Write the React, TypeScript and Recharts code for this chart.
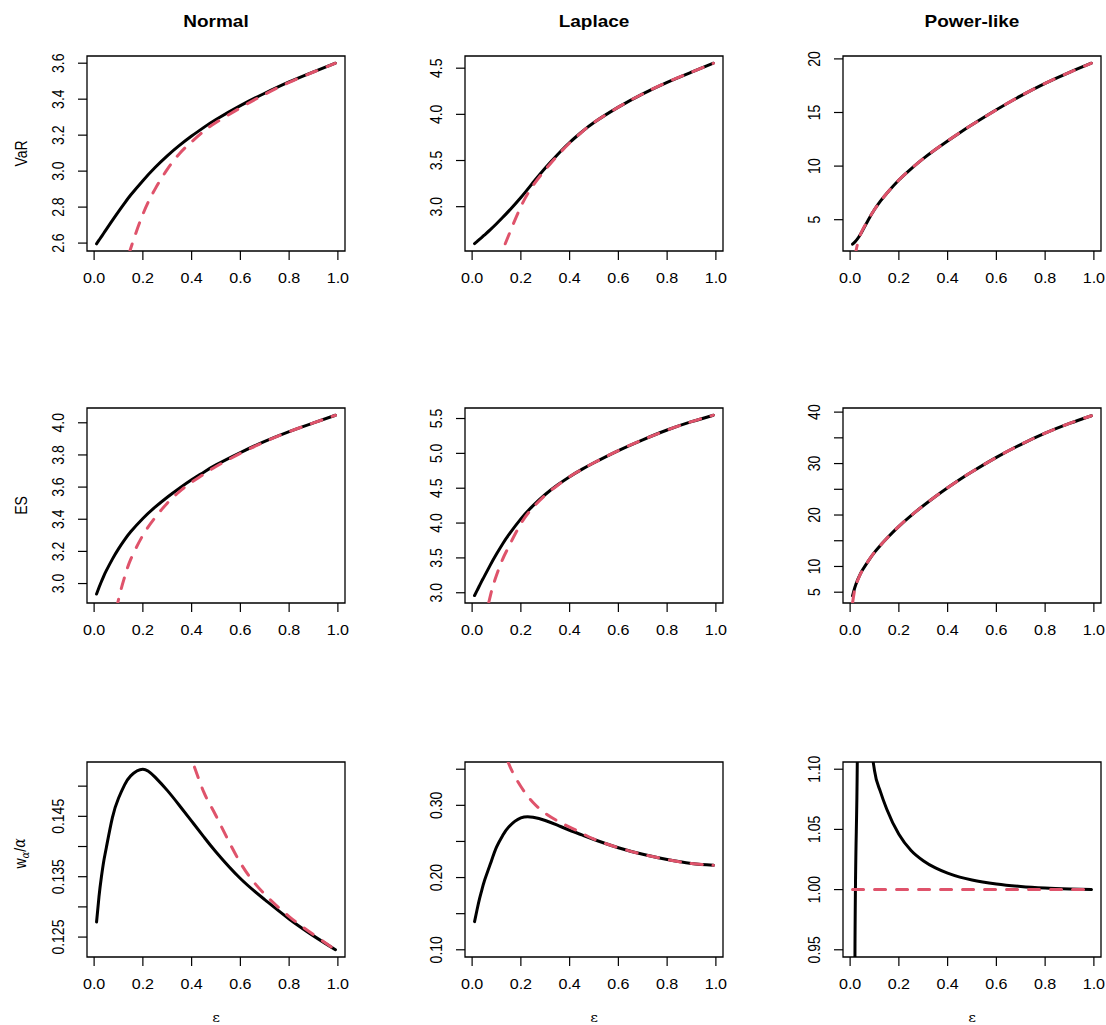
import React from 'react';
import { LineChart, Line, XAxis, YAxis, ReferenceArea } from 'recharts';

// ---------- data ----------
const EPS = [0.01, 0.02, 0.03, 0.04, 0.05, 0.075, 0.1, 0.125, 0.15, 0.2, 0.25, 0.3, 0.35, 0.4, 0.45, 0.5, 0.6, 0.7, 0.8, 0.9, 0.99];

const COLUMN_TITLES = ['Normal', 'Laplace', 'Power-like'];
const ROW_TITLES = ['VaR', 'ES', 'w'];
const X_TICKS = [0, 0.2, 0.4, 0.6, 0.8, 1.0];

const normalVaRExact = [2.596, 2.616, 2.636, 2.656, 2.676, 2.726, 2.775, 2.822, 2.867, 2.947, 3.02, 3.085, 3.143, 3.195, 3.243, 3.287, 3.364, 3.433, 3.496, 3.552, 3.6];
const normalVaRApprox = [null, null, null, null, null, null, 2.3, 2.45, 2.57, 2.76, 2.9, 3.01, 3.097, 3.163, 3.222, 3.27, 3.352, 3.427, 3.494, 3.551, 3.6];

const laplaceVaRExact = [2.6, 2.622, 2.645, 2.668, 2.692, 2.752, 2.815, 2.882, 2.952, 3.1, 3.262, 3.42, 3.563, 3.695, 3.81, 3.912, 4.078, 4.222, 4.347, 4.457, 4.554];
const laplaceVaRApprox = [null, null, null, null, null, null, 2.38, 2.53, 2.69, 3.0, 3.23, 3.4, 3.553, 3.69, 3.808, 3.912, 4.078, 4.222, 4.347, 4.457, 4.554];

const powerVaRExact = [2.72, 2.93, 3.2, 3.55, 3.95, 5.0, 5.95, 6.75, 7.45, 8.7, 9.75, 10.7, 11.55, 12.35, 13.12, 13.85, 15.25, 16.55, 17.72, 18.75, 19.6];
const powerVaRApprox = [null, 1.6, 2.7, 3.45, 4.0, 5.02, 5.95, 6.75, 7.45, 8.7, 9.75, 10.7, 11.55, 12.35, 13.12, 13.85, 15.25, 16.55, 17.72, 18.75, 19.6];

const normalESExact = [2.935, 2.975, 3.013, 3.048, 3.08, 3.152, 3.216, 3.272, 3.322, 3.405, 3.475, 3.537, 3.593, 3.645, 3.693, 3.738, 3.815, 3.884, 3.945, 3.999, 4.047];
const normalESApprox = [null, null, null, null, null, 2.7, 2.9, 3.04, 3.15, 3.3, 3.41, 3.5, 3.572, 3.63, 3.68, 3.728, 3.81, 3.882, 3.945, 3.999, 4.047];

const laplaceESExact = [2.96, 3.03, 3.1, 3.17, 3.235, 3.4, 3.555, 3.7, 3.83, 4.06, 4.25, 4.41, 4.545, 4.665, 4.77, 4.865, 5.04, 5.195, 5.335, 5.455, 5.548];
const laplaceESApprox = [null, null, null, null, 2.55, 2.96, 3.25, 3.48, 3.66, 3.99, 4.225, 4.4, 4.54, 4.665, 4.77, 4.865, 5.04, 5.195, 5.335, 5.455, 5.548];

const powerESExact = [4.3, 6.0, 7.3, 8.35, 9.25, 11.1, 12.75, 14.15, 15.45, 17.8, 19.9, 21.8, 23.6, 25.3, 26.9, 28.4, 31.2, 33.7, 35.9, 37.8, 39.3];
const powerESApprox = [2.9, 5.8, 7.2, 8.3, 9.2, 11.1, 12.75, 14.15, 15.45, 17.8, 19.9, 21.8, 23.6, 25.3, 26.9, 28.4, 31.2, 33.7, 35.9, 37.8, 39.3];

const normalWExact = [0.1275, 0.1317, 0.135, 0.1377, 0.1398, 0.1448, 0.148, 0.1502, 0.1517, 0.1528, 0.1515, 0.1493, 0.1468, 0.1442, 0.1416, 0.1391, 0.1347, 0.1312, 0.128, 0.1252, 0.1229];
const normalWApprox = [null, null, null, null, null, null, null, null, null, null, null, null, 0.16, 0.1545, 0.149, 0.1451, 0.1373, 0.1321, 0.1284, 0.1254, 0.1229];

const laplaceWExact = [0.139, 0.155, 0.17, 0.183, 0.195, 0.219, 0.242, 0.258, 0.27, 0.2825, 0.2835, 0.279, 0.2725, 0.2655, 0.259, 0.2527, 0.2413, 0.2322, 0.2249, 0.2194, 0.2169];
const laplaceWApprox = [null, null, null, null, null, null, null, 0.39, 0.358, 0.326, 0.304, 0.289, 0.2785, 0.2698, 0.2615, 0.2532, 0.2413, 0.2322, 0.2249, 0.2194, 0.2169];

const powerWExact = [0.3, 0.955, 1.12, 1.5, 1.3, 1.15, 1.099, 1.081, 1.067, 1.046, 1.0325, 1.024, 1.018, 1.0137, 1.0104, 1.008, 1.0047, 1.0026, 1.0013, 1.0005, 1.0];
const powerWApprox = [1.0, 1.0, 1.0, 1.0, 1.0, 1.0, 1.0, 1.0, 1.0, 1.0, 1.0, 1.0, 1.0, 1.0, 1.0, 1.0, 1.0, 1.0, 1.0, 1.0, 1.0];

const normalVaRTicks = [2.6, 2.8, 3.0, 3.2, 3.4, 3.6];
const laplaceVaRTicks = [3.0, 3.5, 4.0, 4.5];
const powerVaRTicks = [5, 10, 15, 20];
const normalESTicks = [3.0, 3.2, 3.4, 3.6, 3.8, 4.0];
const laplaceESTicks = [3.0, 3.5, 4.0, 4.5, 5.0, 5.5];
const powerESTicks = [5, 10, 15, 20, 25, 30, 35, 40];
const powerESLabeled = [5, 10, 20, 30, 40];
const normalWTicks = [0.125, 0.13, 0.135, 0.14, 0.145, 0.15];
const normalWLabeled = [0.125, 0.135, 0.145];
const laplaceWTicks = [0.1, 0.15, 0.2, 0.25, 0.3, 0.35];
const laplaceWLabeled = [0.1, 0.2, 0.3];
const powerWTicks = [0.95, 1.0, 1.05, 1.1];

// ---------- layout ----------
const COL_LEFT = [87, 465, 843];
const ROW_TOP = [56, 408, 762];
const BOX_W = 258;
const BOX_H = 195;
const ML = 80, MT = 50, MR = 4, MB = 70;
const YW = 40, XH = 30;
const X_DOMAIN: [number, number] = [-0.0292, 1.0292];
const SX = 1.15;
const FONT = '"Liberation Sans", Arial, Helvetica, sans-serif';
const RED = '#DF536B';

type PanelCfg = {
  row: number; col: number;
  exact: (number | null)[]; approx: (number | null)[];
  yDomain: [number, number]; yTicks: number[]; yLabeled: number[]; digits: number; curve: any;
};

const PANELS: PanelCfg[] = [
  { row: 0, col: 0, exact: normalVaRExact, approx: normalVaRApprox, yDomain: [2.556, 3.64], yTicks: normalVaRTicks, yLabeled: normalVaRTicks, digits: 1, curve: 'natural' },
  { row: 0, col: 1, exact: laplaceVaRExact, approx: laplaceVaRApprox, yDomain: [2.52, 4.632], yTicks: laplaceVaRTicks, yLabeled: laplaceVaRTicks, digits: 1, curve: 'natural' },
  { row: 0, col: 2, exact: powerVaRExact, approx: powerVaRApprox, yDomain: [2.08, 20.27], yTicks: powerVaRTicks, yLabeled: powerVaRTicks, digits: 0, curve: 'natural' },
  { row: 1, col: 0, exact: normalESExact, approx: normalESApprox, yDomain: [2.879, 4.092], yTicks: normalESTicks, yLabeled: normalESTicks, digits: 1, curve: 'natural' },
  { row: 1, col: 1, exact: laplaceESExact, approx: laplaceESApprox, yDomain: [2.853, 5.651], yTicks: laplaceESTicks, yLabeled: laplaceESTicks, digits: 1, curve: 'natural' },
  { row: 1, col: 2, exact: powerESExact, approx: powerESApprox, yDomain: [2.9, 40.8], yTicks: powerESTicks, yLabeled: powerESLabeled, digits: 0, curve: 'natural' },
  { row: 2, col: 0, exact: normalWExact, approx: normalWApprox, yDomain: [0.1217, 0.154], yTicks: normalWTicks, yLabeled: normalWLabeled, digits: 3, curve: 'natural' },
  { row: 2, col: 1, exact: laplaceWExact, approx: laplaceWApprox, yDomain: [0.09, 0.36], yTicks: laplaceWTicks, yLabeled: laplaceWLabeled, digits: 2, curve: 'natural' },
  { row: 2, col: 2, exact: powerWExact, approx: powerWApprox, yDomain: [0.944, 1.106], yTicks: powerWTicks, yLabeled: powerWTicks, digits: 2, curve: 'monotone' },
];

const STxt = ({ x, y, rot, size, weight, family, children }: any) => (
  <text
    transform={`translate(${x},${y}) scale(${SX},1)${rot ? ' rotate(-90)' : ''}`}
    x={0}
    y={0}
    textAnchor="middle"
    dominantBaseline="central"
    fontSize={size}
    fontFamily={family || FONT}
    fontWeight={weight || 'normal'}
    fill="#000"
  >
    {children}
  </text>
);

const Panel = ({ p }: { p: PanelCfg }) => {
  const data = EPS.map((e, i) => ({ eps: e, exact: p.exact[i], approx: p.approx[i] }));
  const W = BOX_W + ML + MR;
  const H = BOX_H + MT + MB;
  const plotBottom = MT + BOX_H;
  const yTick = (props: any) => {
    const v = props.payload.value;
    const show = p.yLabeled.some((t) => Math.abs(t - v) < 1e-9);
    if (!show) return <g />;
    return <STxt x={ML - 29} y={props.y} rot size={14}>{v.toFixed(p.digits)}</STxt>;
  };
  const xTick = (props: any) => (
    <STxt x={props.x} y={plotBottom + 26.5} size={14}>{Number(props.payload.value).toFixed(1)}</STxt>
  );
  return (
    <div style={{ position: 'absolute', left: COL_LEFT[p.col] - ML, top: ROW_TOP[p.row] - MT }}>
      <LineChart width={W} height={H} data={data} margin={{ top: MT, right: MR, bottom: MB - XH, left: ML - YW }}>
        <XAxis
          type="number" dataKey="eps" domain={X_DOMAIN} ticks={X_TICKS} allowDataOverflow
          height={XH} axisLine={false} tickLine={{ stroke: '#000', strokeWidth: 1.2 }} tickSize={9}
          tick={xTick} interval={0}
        />
        <YAxis
          type="number" domain={p.yDomain} ticks={p.yTicks} allowDataOverflow
          width={YW} axisLine={false} tickLine={{ stroke: '#000', strokeWidth: 1.2 }} tickSize={9}
          tick={yTick} interval={0}
        />
        <ReferenceArea
          x1={X_DOMAIN[0]} x2={X_DOMAIN[1]} y1={p.yDomain[0]} y2={p.yDomain[1]}
          fill="none" fillOpacity={0} stroke="#000" strokeWidth={1.3} ifOverflow="visible"
        />
        <Line
          dataKey="exact" type={p.curve} stroke="#000" strokeWidth={3} dot={false}
          isAnimationActive={false} connectNulls={false} strokeLinecap="round"
        />
        <Line
          dataKey="approx" type={p.curve} stroke={RED} strokeWidth={3} dot={false}
          strokeDasharray="11 11" isAnimationActive={false} connectNulls={false} strokeLinecap="round"
        />
      </LineChart>
    </div>
  );
};

export default function App() {
  const colCenters = COL_LEFT.map((l) => l + BOX_W / 2);
  const rowCenters = ROW_TOP.map((t) => t + BOX_H / 2);
  return (
    <div style={{ position: 'absolute', left: 0, top: 0, width: 1106, height: 1025, overflow: 'hidden', background: '#fff' }}>
      {PANELS.map((p, i) => <Panel key={i} p={p} />)}
      <svg width={1106} height={1025} style={{ position: 'absolute', left: 0, top: 0, pointerEvents: 'none' }}>
        {COLUMN_TITLES.map((t, i) => (
          <STxt key={t} x={colCenters[i]} y={21} size={16.5} weight="bold">{t}</STxt>
        ))}
        <STxt x={21} y={rowCenters[0]} rot size={14}>{ROW_TITLES[0]}</STxt>
        <STxt x={21} y={rowCenters[1]} rot size={14}>{ROW_TITLES[1]}</STxt>
        <text
          transform={`translate(20,${rowCenters[2] - 6}) scale(${SX},1) rotate(-90)`}
          textAnchor="middle" dominantBaseline="central" fontSize={14} fontFamily={FONT} fill="#000"
        >
          <tspan>{ROW_TITLES[2]}</tspan>
          <tspan fontSize={10} dy={4} fontFamily='"DejaVu Serif", serif' fontStyle="italic">α</tspan>
          <tspan dy={-4}>/</tspan>
          <tspan fontFamily='"DejaVu Serif", serif' fontStyle="italic">α</tspan>
        </text>
        {colCenters.map((c, i) => (
          <STxt key={i} x={c} y={1017} size={13} family='"DejaVu Serif", serif'>ε</STxt>
        ))}
      </svg>
    </div>
  );
}
